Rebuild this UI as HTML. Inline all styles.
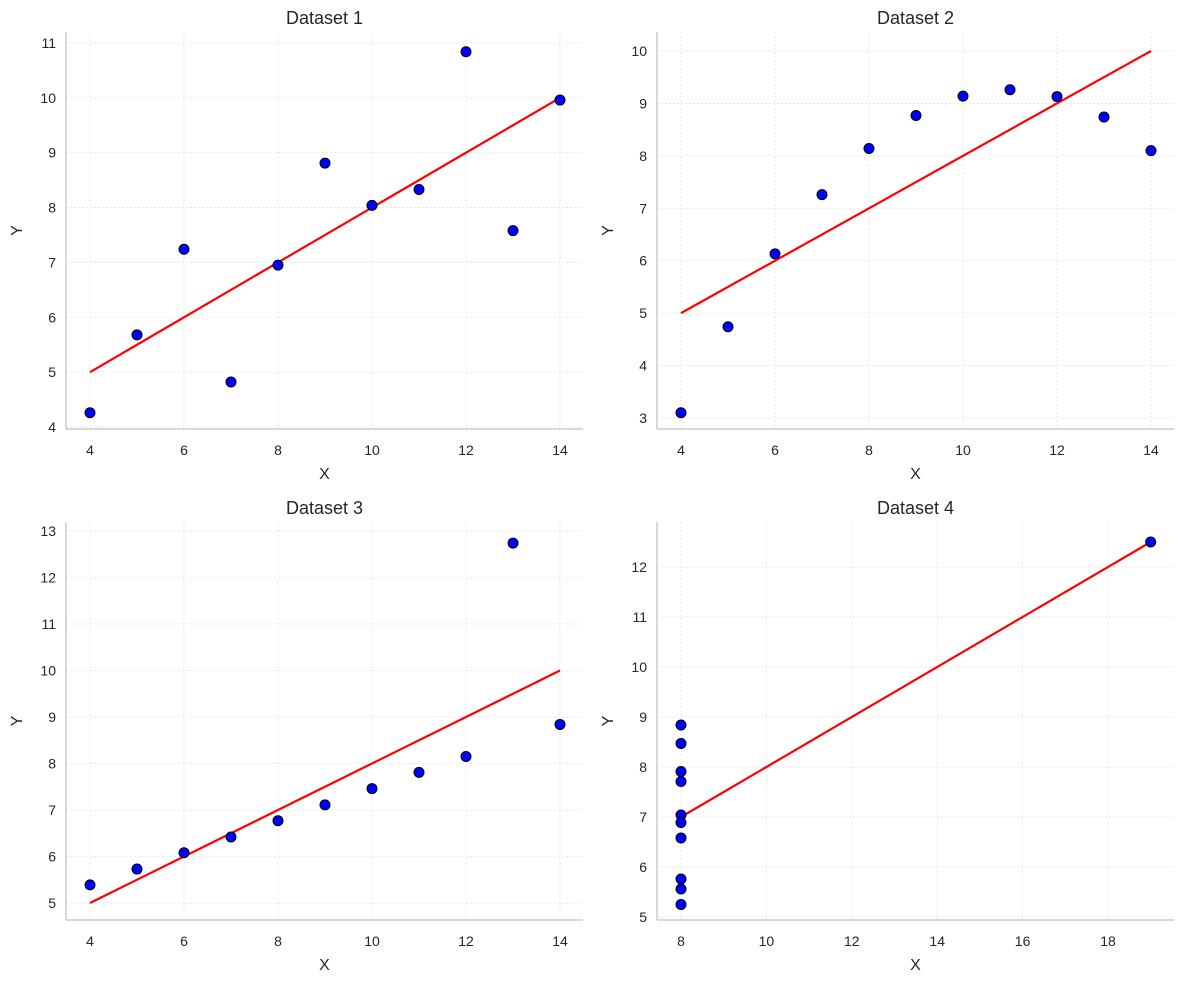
<!DOCTYPE html>
<html><head><meta charset="utf-8"><style>
html,body{margin:0;padding:0;background:#fff}
svg{display:block;font-family:"Liberation Sans","DejaVu Sans",sans-serif}
</style></head><body>
<svg id="s" width="1183" height="983" xmlns="http://www.w3.org/2000/svg"></svg>
<script>
const s=document.getElementById('s');let h='';
const X=[10,8,13,9,11,14,6,4,12,7,5];
const P=[
{t:'Dataset 1',L:66,R:583,T:32,B:429,x0:4,px0:90,x1:14,px1:560,y0:4,py0:427,y1:11,py1:43,xt:[4,6,8,10,12,14],yt:[4,5,6,7,8,9,10,11],
 x:X,y:[8.04,6.95,7.58,8.81,8.33,9.96,7.24,4.26,10.84,4.82,5.68]},
{t:'Dataset 2',L:657,R:1174,T:32,B:429,x0:4,px0:681,x1:14,px1:1151,y0:3,py0:418,y1:10,py1:51,xt:[4,6,8,10,12,14],yt:[3,4,5,6,7,8,9,10],
 x:X,y:[9.14,8.14,8.74,8.77,9.26,8.10,6.13,3.10,9.13,7.26,4.74]},
{t:'Dataset 3',L:66,R:583,T:522,B:920,x0:4,px0:90,x1:14,px1:560,y0:5,py0:903,y1:13,py1:531,xt:[4,6,8,10,12,14],yt:[5,6,7,8,9,10,11,12,13],
 x:X,y:[7.46,6.77,12.74,7.11,7.81,8.84,6.08,5.39,8.15,6.42,5.73]},
{t:'Dataset 4',L:657,R:1174,T:522,B:920,x0:8,px0:681,x1:18,px1:1108,y0:5,py0:917,y1:12,py1:567,xt:[8,10,12,14,16,18],yt:[5,6,7,8,9,10,11,12],
 x:[8,8,8,8,8,8,8,19,8,8,8],y:[6.58,5.76,7.71,8.84,8.47,7.04,5.25,12.50,5.56,7.91,6.89]}];
for(const p of P){
 const fx=v=>p.px0+(v-p.x0)*(p.px1-p.px0)/(p.x1-p.x0);
 const fy=v=>p.py0+(v-p.y0)*(p.py1-p.py0)/(p.y1-p.y0);
 for(const v of p.xt){const x=fx(v);h+=`<line x1="${x}" y1="${p.T}" x2="${x}" y2="${p.B}" stroke="#e4e4e4" stroke-width="0.8" stroke-dasharray="2,2"/>`;
  h+=`<text x="${x}" y="${p.B+26}" font-size="14" fill="#262626" text-anchor="middle">${v}</text>`;}
 for(const v of p.yt){const y=fy(v);h+=`<line x1="${p.L}" y1="${y}" x2="${p.R}" y2="${y}" stroke="#e4e4e4" stroke-width="0.8" stroke-dasharray="2,2"/>`;
  h+=`<text x="${p.L-10}" y="${y+5}" font-size="14" fill="#262626" text-anchor="end">${v}</text>`;}
 h+=`<line x1="${p.L}" y1="${p.T}" x2="${p.L}" y2="${p.B}" stroke="#cccccc" stroke-width="1.5"/>`;
 h+=`<line x1="${p.L}" y1="${p.B}" x2="${p.R}" y2="${p.B}" stroke="#cccccc" stroke-width="1.5"/>`;
 h+=`<text x="${(p.L+p.R)/2}" y="${p.T-8}" font-size="18" fill="#262626" text-anchor="middle">${p.t}</text>`;
 h+=`<text x="${(p.L+p.R)/2}" y="${p.B+50}" font-size="16" fill="#262626" text-anchor="middle">X</text>`;
 const cy=(p.T+p.B)/2;h+=`<text x="${p.L-44}" y="${cy}" font-size="16" fill="#262626" text-anchor="middle" transform="rotate(-90 ${p.L-44} ${cy})">Y</text>`;
 const xs=p.x,mn=Math.min(...xs),mx=Math.max(...xs);
 h+=`<line x1="${fx(mn)}" y1="${fy(3+0.5*mn)}" x2="${fx(mx)}" y2="${fy(3+0.5*mx)}" stroke="#ff0000" stroke-width="2.2"/>`;
 for(let i=0;i<xs.length;i++)h+=`<circle cx="${fx(xs[i])}" cy="${fy(p.y[i])}" r="5" fill="#0000ff" stroke="#000" stroke-width="1"/>`;
}
s.innerHTML=h;
</script>
</body></html>
